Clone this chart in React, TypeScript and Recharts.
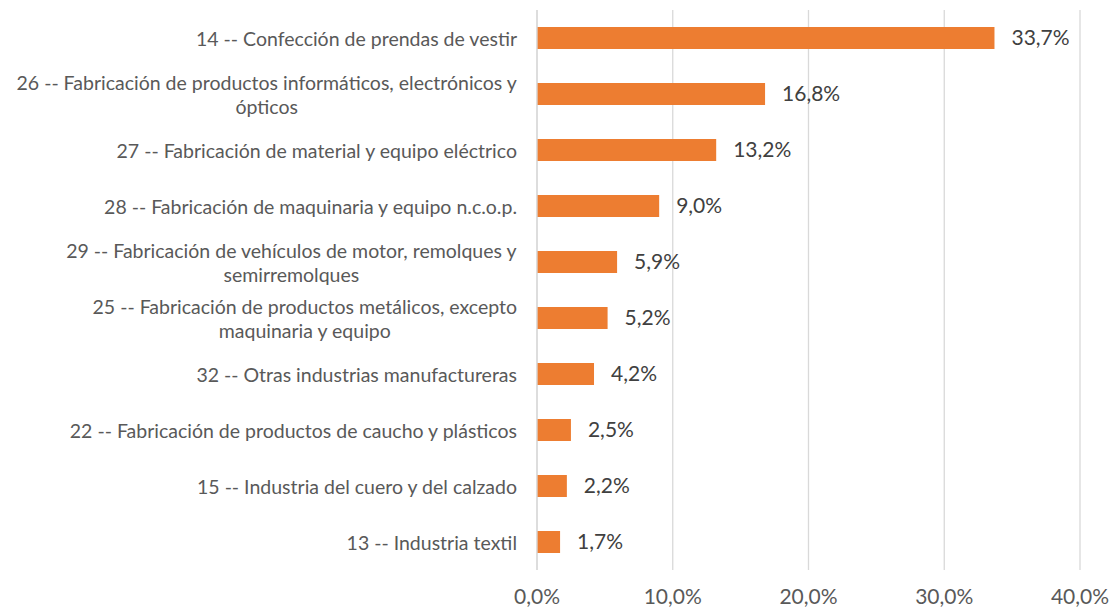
import React from "react";
import { BarChart, Bar, XAxis, YAxis, CartesianGrid, LabelList } from "recharts";

const categories: string[] = [
  "14 -- Confección de prendas de vestir",
  "26 -- Fabricación de productos informáticos, electrónicos y\nópticos",
  "27 -- Fabricación de material y equipo eléctrico",
  "28 -- Fabricación de maquinaria y equipo n.c.o.p.",
  "29 -- Fabricación de vehículos de motor, remolques y\nsemirremolques",
  "25 -- Fabricación de productos metálicos, excepto\nmaquinaria y equipo",
  "32 -- Otras industrias manufactureras",
  "22 -- Fabricación de productos de caucho y plásticos",
  "15 -- Industria del cuero y del calzado",
  "13 -- Industria textil",
];

const shares: number[] = [33.7, 16.8, 13.2, 9.0, 5.9, 5.2, 4.2, 2.5, 2.2, 1.7];

const xTicks: number[] = [0, 10, 20, 30, 40];

const data = categories.map((name, i) => ({ name, value: shares[i] }));

const FONT = "Lato, 'Open Sans', sans-serif";
const CAT_SIZE = 19.5;
const NUM_SIZE = 21;
const LINE_GAP = 24;

const fmt = (v: number) => v.toFixed(1).replace(".", ",") + "%";

let canvas: HTMLCanvasElement | null = null;
function measure(text: string): number {
  if (!canvas) canvas = document.createElement("canvas");
  const ctx = canvas.getContext("2d");
  if (!ctx) return text.length * 9;
  ctx.font = `${CAT_SIZE}px Lato`;
  return ctx.measureText(text).width;
}

const CategoryTick = (props: any) => {
  const { x, y, payload } = props;
  const lines: string[] = String(payload.value).split("\n");
  if (lines.length === 1) {
    return (
      <text x={x} y={y} textAnchor="end" dominantBaseline="central" fill="#595959" fontSize={CAT_SIZE} fontFamily={FONT}>
        {lines[0]}
      </text>
    );
  }
  const widest = Math.max(...lines.map(measure));
  const cx = x - widest / 2;
  const startY = y - ((lines.length - 1) * LINE_GAP) / 2;
  return (
    <g>
      {lines.map((ln, i) => (
        <text
          key={i}
          x={cx}
          y={startY + i * LINE_GAP}
          textAnchor="middle"
          dominantBaseline="central"
          fill="#595959"
          fontSize={CAT_SIZE}
          fontFamily={FONT}
        >
          {ln}
        </text>
      ))}
    </g>
  );
};

export default function App() {
  return (
    <div style={{ position: "absolute", left: 0, top: 0, width: 1112, height: 610, background: "#fff" }}>
      <BarChart
        width={1112}
        height={610}
        data={data}
        layout="vertical"
        margin={{ top: 10, right: 32, bottom: 0, left: 0 }}
        style={{ fontFamily: FONT }}
      >
        <CartesianGrid horizontal={false} vertical={true} stroke="#d9d9d9" strokeWidth={1.3} />
        <XAxis
          type="number"
          domain={[0, 40]}
          ticks={xTicks}
          tickFormatter={fmt}
          axisLine={false}
          tickLine={false}
          tickMargin={13}
          height={40}
          tick={{ fill: "#595959", fontSize: NUM_SIZE, fontFamily: FONT }}
        />
        <YAxis
          type="category"
          dataKey="name"
          width={537}
          axisLine={{ stroke: "#d9d9d9", strokeWidth: 1.3 }}
          tickLine={false}
          tickMargin={14}
          interval={0}
          tick={<CategoryTick />}
        />
        <Bar dataKey="value" fill="#ED7D31" barSize={22} isAnimationActive={false}>
          <LabelList
            dataKey="value"
            position="right"
            offset={17}
            formatter={fmt}
            fill="#404040"
            fontSize={NUM_SIZE}
            fontFamily={FONT}
          />
        </Bar>
      </BarChart>
    </div>
  );
}
